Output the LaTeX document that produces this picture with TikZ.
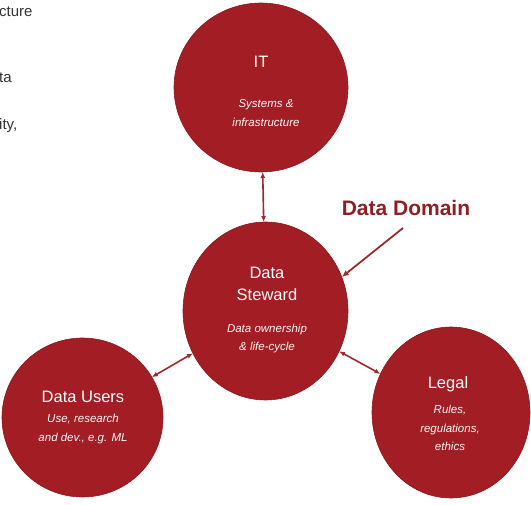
\documentclass[tikz,border=0pt]{standalone}
\usepackage{fontspec}
\setmainfont{Liberation Sans}
\usetikzlibrary{shapes.geometric,arrows.meta}
\definecolor{domainred}{HTML}{A31D24}
\definecolor{linkred}{HTML}{9E2A2E}
\definecolor{labelred}{HTML}{8E2025}
\definecolor{slidegray}{HTML}{333333}
\begin{document}
\begin{tikzpicture}[x=1pt, y=-1pt,
    area/.style={ellipse, fill=domainred, draw=domainred!85!black, line width=0.6pt, inner sep=0pt, outer sep=0pt},
    head/.style={text=white, align=center, inner sep=0pt, font=\fontsize{16.5}{22}\selectfont},
    note/.style={text=white!92!pink, align=center, inner sep=0pt, font=\fontsize{11.5}{18.5}\selectfont\itshape},
    link/.style={linkred, line width=1.6pt, {Latex[length=6pt,width=5pt]}-{Latex[length=6pt,width=5pt]}},
    point/.style={linkred, line width=1.8pt, -{Latex[length=7pt,width=6pt]}}]
        \useasboundingbox (0,0) rectangle (531,505);
        % cut-off words of the slide beside
        \node [anchor=west, inner sep=0pt, text=slidegray, font=\fontsize{15}{18}\selectfont] (frag1) at (-1,12) {cture};
        \node [anchor=west, inner sep=0pt, text=slidegray, font=\fontsize{15}{18}\selectfont] (frag2) at (-1,78) {ta};
        \node [anchor=west, inner sep=0pt, text=slidegray, font=\fontsize{15}{18}\selectfont] (frag3) at (-1,126) {ity,};
        % the four areas
        \node [area, minimum width=174pt, minimum height=169pt] (it) at (261,87.5) {};
        \node [area, minimum width=165pt, minimum height=178pt] (steward) at (265.5,311) {};
        \node [area, minimum width=161pt, minimum height=159pt] (users) at (82.5,417.5) {};
        \node [area, minimum width=158pt, minimum height=171pt] (legal) at (451,412.5) {};
        % texts
        \node [head] (it-head) at (261,62) {IT};
        \node [note] (it-note) at (266,113) {Systems \&\\infrastructure};
        \node [head] (steward-head) at (267,284) {Data\\Steward};
        \node [note] (steward-note) at (267,338.5) {Data ownership\\\& life-cycle};
        \node [head] (users-head) at (83,397) {Data Users};
        \node [note] (users-note) at (83,429) {Use, research\\and dev., e.g. ML};
        \node [head] (legal-head) at (448,384) {Legal};
        \node [note] (legal-note) at (450,428) {Rules,\\regulations,\\ethics};
        % links
        \draw [link] (it) -- (steward);
        \draw [link] (users) -- (steward);
        \draw [link] (steward) -- (legal);
        \node [text=labelred, inner sep=0pt, font=\fontsize{21}{24}\bfseries] (domain) at (406,208) {Data Domain};
        \coordinate (domain-tail) at (403,228);
        \draw [point] (domain-tail) -- (steward.24);
    \end{tikzpicture}
\end{document}
